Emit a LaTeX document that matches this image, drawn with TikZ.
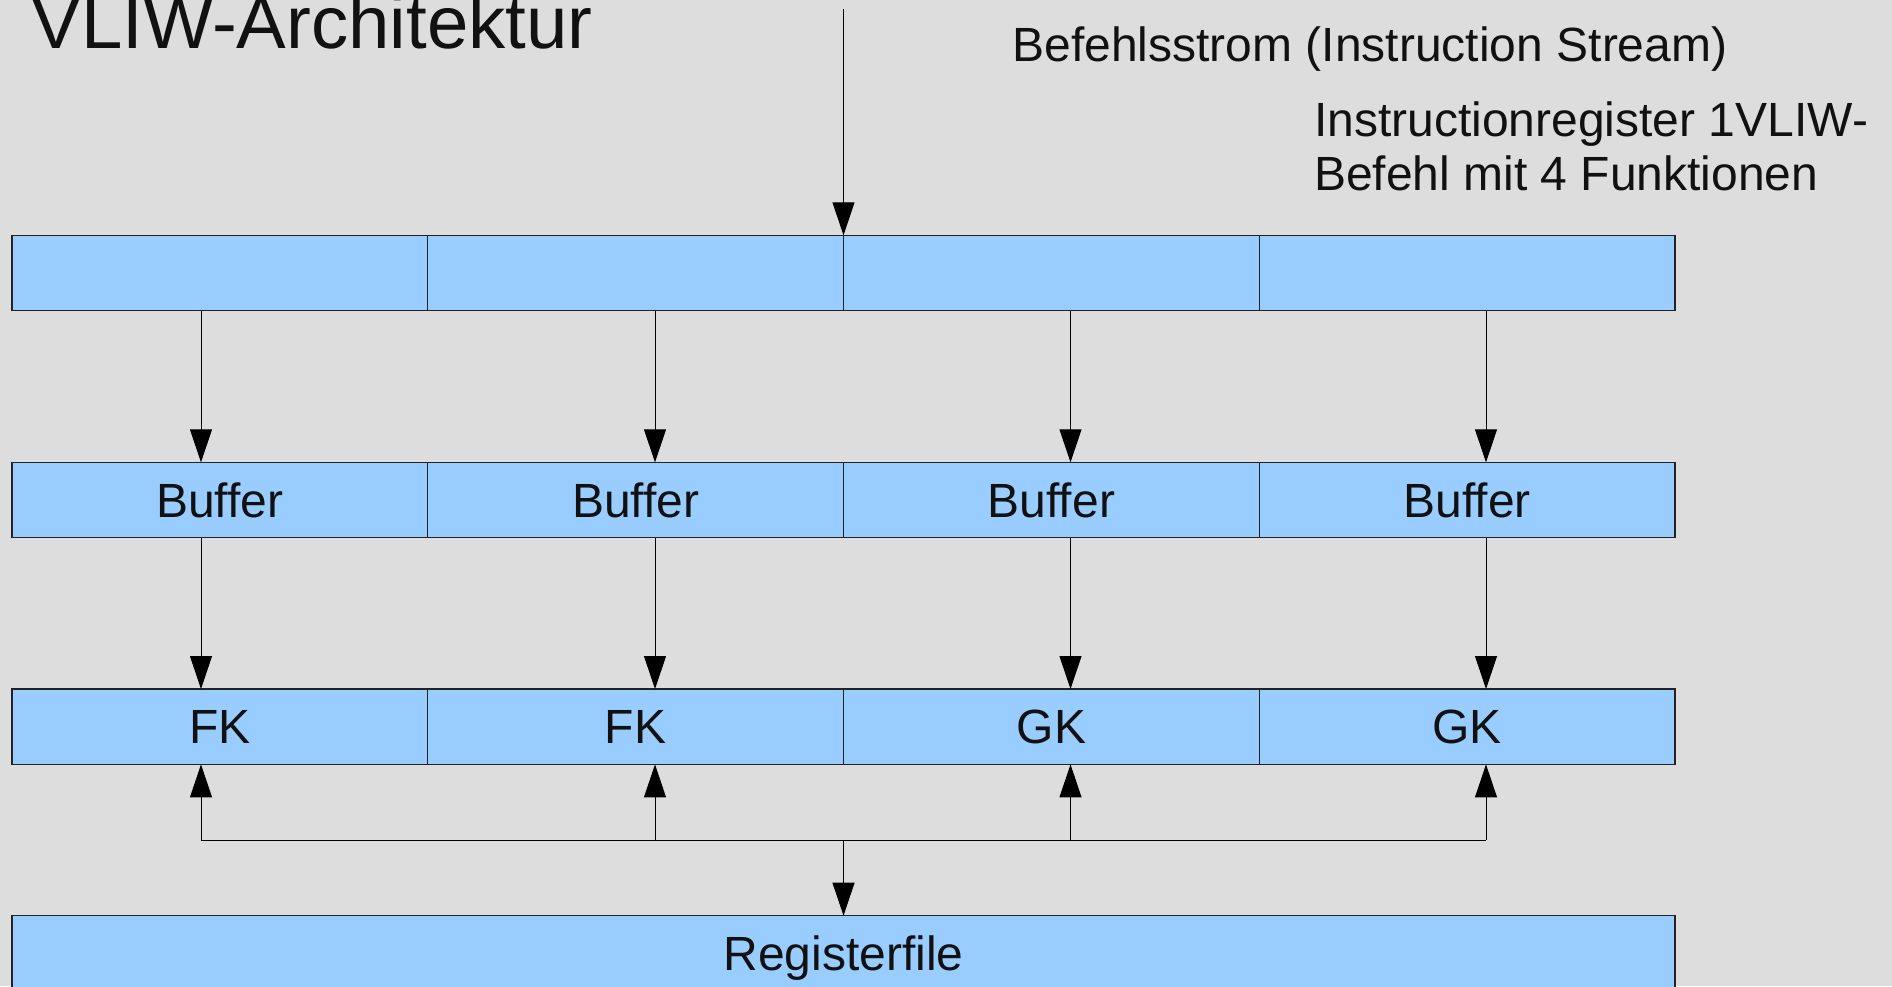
\documentclass[tikz,border=0pt]{standalone}
\usepackage{fontspec}
\setmainfont{Liberation Sans}
\usetikzlibrary{arrows.meta}
\definecolor{bg}{HTML}{DDDDDD}
\definecolor{cellblue}{HTML}{99CCFF}
\definecolor{edgecol}{HTML}{222222}
\definecolor{txt}{HTML}{111111}
\begin{document}
\begin{tikzpicture}[x=1pt,y=-1pt,
  cell/.style={draw=edgecol, fill=cellblue, line width=1.3pt, minimum width=415.75pt,
    minimum height=75.4pt, inner sep=0pt, outer sep=0pt, anchor=north west,
    font=\fontsize{48}{53}\selectfont, text height=34pt, text depth=0pt, text=txt},
  wide/.style={cell, minimum width=1663pt},
  arr/.style={line width=1pt, draw=black, -{Triangle[length=33pt,width=22pt]}},
  bus/.style={line width=1pt, draw=black},
  lbl/.style={inner sep=0pt, outer sep=0pt, anchor=base west, font=\fontsize{48}{53}\selectfont, text=txt}]
\clip (0,0) rectangle (1892,986);
\fill[bg] (0,0) rectangle (1892,986);

% title and labels
\node[lbl, font=\fontsize{74.4}{80}\selectfont] (title) at (31.6,48.3) {VLIW-Architektur};
\node[lbl] (stream) at (1012.5,61.7) {Befehlsstrom (Instruction Stream)};
\node[lbl] (ir1) at (1314,136.7) {Instructionregister 1VLIW-};
\node[lbl] (ir2) at (1314,190) {Befehl mit 4 Funktionen};

% instruction register row
\node[cell] (t1) at (12,235.3) {};
\node[cell] (t2) at (427.75,235.3) {};
\node[cell] (t3) at (843.5,235.3) {};
\node[cell] (t4) at (1259.25,235.3) {};
% buffer row
\node[cell] (b1) at (12,462.3) {Buffer};
\node[cell] (b2) at (427.75,462.3) {Buffer};
\node[cell] (b3) at (843.5,462.3) {Buffer};
\node[cell] (b4) at (1259.25,462.3) {Buffer};
% functional units
\node[cell] (f1) at (12,689) {FK};
\node[cell] (f2) at (427.75,689) {FK};
\node[cell] (f3) at (843.5,689) {GK};
\node[cell] (f4) at (1259.25,689) {GK};
% register file
\node[wide] (reg) at (12,915.7) {Registerfile};

% connector columns
\coordinate (ax1) at (201,0);
\coordinate (ax2) at (655,0);
\coordinate (ax3) at (1070.5,0);
\coordinate (ax4) at (1486,0);
\coordinate (src) at (843.5,9);
\coordinate (busc) at (843.5,840);

\draw[arr] (src) -- (src |- t3.north);

\foreach \i in {1,2,3,4}{
  \draw[arr] (t\i.south -| ax\i) -- (b\i.north -| ax\i);
  \draw[arr] (b\i.south -| ax\i) -- (f\i.north -| ax\i);
  \draw[arr] (busc -| ax\i) -- (f\i.south -| ax\i);
}
\draw[bus] (busc -| ax1) -- (busc -| ax4);
\draw[arr] (busc) -- (busc |- reg.north);
\end{tikzpicture}
\end{document}
